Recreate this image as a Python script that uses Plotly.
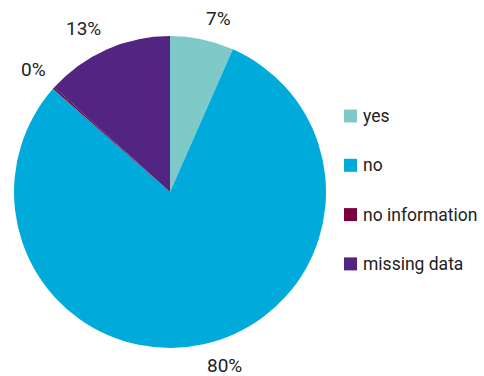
import numpy as np
import plotly.graph_objects as go

# Shares of responses (percent)
categories = ["yes", "no", "no information", "missing data"]
values = [6.6, 79.9, 0.2, 13.3]
colors = ["#7fcac9", "#00aadb", "#7b0041", "#522582"]

W, H = 484, 376
cx, cy, R = 170, 192, 156          # pie centre and radius in pixels
label_gap = 8                       # distance of value labels beyond the rim
FONT = "Roboto"
TXT = "#222222"

fig = go.Figure(go.Pie(
    labels=categories,
    values=values,
    marker=dict(colors=colors, line=dict(width=0)),
    sort=False,
    direction="clockwise",
    rotation=0,
    textinfo="none",
    hoverinfo="label+percent",
    showlegend=False,
    domain=dict(x=[(cx - R) / W, (cx + R) / W],
                y=[(H - cy - R) / H, (H - cy + R) / H]),
))

# Percentage labels placed just outside each slice, at its mid-angle
vals = np.array(values, dtype=float)
total = vals.sum()
mid = np.cumsum(vals) - vals / 2
theta = 2 * np.pi * mid / total
pct = np.round(vals / total * 100).astype(int)
annotations = []
for t, p in zip(theta, pct):
    d = R + label_gap
    px = cx + d * np.sin(t)
    py = cy - d * np.cos(t)
    annotations.append(dict(
        x=px / W, y=1 - py / H, xref="paper", yref="paper",
        text=f"{p}%", showarrow=False,
        xanchor="left" if np.sin(t) >= 0 else "right",
        yanchor="bottom" if np.cos(t) >= 0 else "top",
        font=dict(family=FONT, size=19, color=TXT),
    ))

# Legend: coloured squares with category names
shapes = []
leg_x, leg_y0, leg_step, sw = 344, 116, 49.3, 13
for i, (name, col) in enumerate(zip(categories, colors)):
    yc = leg_y0 + i * leg_step
    shapes.append(dict(
        type="rect", xref="paper", yref="paper",
        x0=leg_x / W, x1=(leg_x + sw) / W,
        y0=1 - (yc + sw / 2) / H, y1=1 - (yc - sw / 2) / H,
        fillcolor=col, line=dict(width=0),
    ))
    annotations.append(dict(
        x=(leg_x + sw + 4) / W, y=1 - yc / H, xref="paper", yref="paper",
        text=name, showarrow=False, xanchor="left", yanchor="middle",
        font=dict(family=FONT, size=17.5, color=TXT),
    ))

fig.update_layout(
    width=W, height=H,
    margin=dict(l=0, r=0, t=0, b=0),
    paper_bgcolor="white",
    plot_bgcolor="white",
    annotations=annotations,
    shapes=shapes,
)

fig.write_html("out.html")
